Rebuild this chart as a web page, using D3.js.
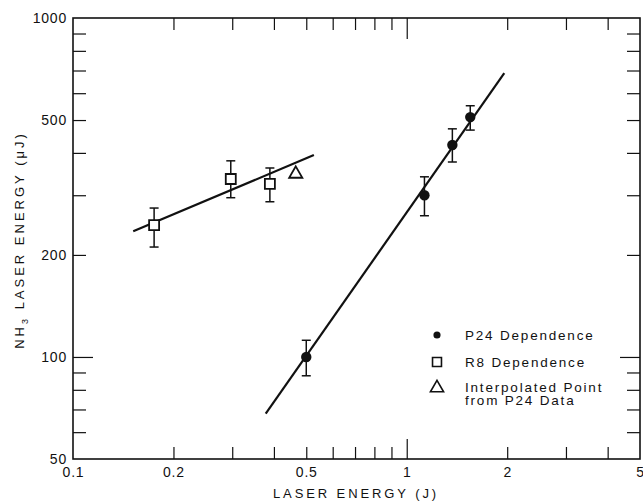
<!DOCTYPE html>
<html>
<head>
<meta charset="utf-8">
<script src="https://cdn.jsdelivr.net/npm/d3@7"></script>
<style>
  body { margin: 0; background: #fff; overflow: hidden; }
  svg { display: block; }
  svg text { font-family: "Liberation Sans", Arial, sans-serif; fill: #111; }
</style>
</head>
<body>
<svg id="graph"></svg>
<script>
// P24 dependence (filled circles)
var p24X = [0.5, 1.13, 1.37, 1.55];
var p24Y = [100, 300, 422, 510];
var p24Lo = [88, 261, 376, 467];
var p24Hi = [112, 340, 471, 551];

// R8 dependence (open squares)
var r8X = [0.175, 0.297, 0.389];
var r8Y = [245, 335, 324];
var r8Lo = [211, 295, 287];
var r8Hi = [275, 379, 361];

// interpolated point (triangle)
var triX = [0.465];
var triY = [349];

// fitted lines, end points
var p24FitX = [0.378, 1.96];
var p24FitY = [68, 688];
var r8FitX = [0.1515, 0.527];
var r8FitY = [235, 394];

// ticks
var xLabels = [0.1, 0.2, 0.5, 1, 2, 5];
var xMinor = [0.2, 0.3, 0.4, 0.5, 0.6, 0.7, 0.8, 0.9, 2, 3, 4];
var xMajor = [1];
var yLabels = [50, 100, 200, 500, 1000];
var yMinor = [60, 70, 80, 90, 200, 300, 400, 500, 600, 700, 800, 900];
var yMajor = [100];

var legendItems = ["P24 Dependence", "R8 Dependence", "Interpolated Point", "from P24 Data"];

var outerWidth = 643, outerHeight = 503;
var margins = { left: 73, right: 3, top: 18, bottom: 44 };
var innerWidth = outerWidth - margins.left - margins.right;
var innerHeight = outerHeight - margins.top - margins.bottom;

var svg = d3.select('svg#graph')
  .attr('width', outerWidth)
  .attr('height', outerHeight);

var g = svg.append('g')
  .attr('transform', 'translate(' + margins.left + ',' + margins.top + ')');

var x = d3.scaleLog().domain([0.1, 5]).range([0, innerWidth]);
var y = d3.scaleLog().domain([50, 1000]).range([innerHeight, 0]);

function styleAxis(sel) {
  sel.select('.domain').remove();
  sel.selectAll('line').attr('stroke', '#111').attr('stroke-width', 1.2);
  sel.selectAll('text').attr('font-size', 14).attr('letter-spacing', 0.8)
    .style('font-family', '"Liberation Sans", Arial, sans-serif');
}
// tick-only axes: drop their empty labels
function ticksOnly(sel) {
  styleAxis(sel);
  sel.selectAll('text').remove();
}

// bottom ticks (inward) + labels
g.append('g').attr('transform', 'translate(0,' + innerHeight + ')')
  .call(d3.axisBottom(x).tickValues(xMinor).tickSize(-12))
  .call(ticksOnly);
g.append('g').attr('transform', 'translate(0,' + innerHeight + ')')
  .call(d3.axisBottom(x).tickValues(xMajor).tickSize(-20))
  .call(ticksOnly);
g.append('g').attr('transform', 'translate(0,' + innerHeight + ')')
  .call(d3.axisBottom(x).tickValues(xLabels).tickSize(0).tickPadding(8).tickFormat(d3.format('')))
  .call(styleAxis);

// top ticks
g.append('g')
  .call(d3.axisTop(x).tickValues(xMinor).tickSize(-12))
  .call(ticksOnly);
g.append('g')
  .call(d3.axisTop(x).tickValues(xMajor).tickSize(-21))
  .call(ticksOnly);

// left ticks + labels
g.append('g')
  .call(d3.axisLeft(y).tickValues(yMinor).tickSize(-13))
  .call(ticksOnly);
g.append('g')
  .call(d3.axisLeft(y).tickValues(yMajor).tickSize(-20))
  .call(ticksOnly);
g.append('g')
  .call(d3.axisLeft(y).tickValues(yLabels).tickSize(0).tickPadding(6).tickFormat(d3.format('')))
  .call(styleAxis);

// right ticks
g.append('g').attr('transform', 'translate(' + innerWidth + ',0)')
  .call(d3.axisRight(y).tickValues(yMinor).tickSize(-13))
  .call(ticksOnly);
g.append('g').attr('transform', 'translate(' + innerWidth + ',0)')
  .call(d3.axisRight(y).tickValues(yMajor).tickSize(-20))
  .call(ticksOnly);

// frame
g.append('rect')
  .attr('width', innerWidth).attr('height', innerHeight)
  .attr('fill', 'none').attr('stroke', '#111').attr('stroke-width', 1.6);

// fit lines
var line = d3.line().x(d => x(d[0])).y(d => y(d[1]));
g.append('path')
  .datum(d3.zip(p24FitX, p24FitY))
  .attr('d', line).attr('fill', 'none').attr('stroke', '#111').attr('stroke-width', 2.2);
g.append('path')
  .datum(d3.zip(r8FitX, r8FitY))
  .attr('d', line).attr('fill', 'none').attr('stroke', '#111').attr('stroke-width', 2.2);

// error bars
function errorBars(xs, lo, hi) {
  var data = d3.zip(xs, lo, hi);
  var eb = g.append('g').attr('stroke', '#111').attr('stroke-width', 1.5);
  eb.selectAll('line.v').data(data).join('line')
    .attr('x1', d => x(d[0])).attr('x2', d => x(d[0]))
    .attr('y1', d => y(d[1])).attr('y2', d => y(d[2]));
  eb.selectAll('line.lo').data(data).join('line')
    .attr('x1', d => x(d[0]) - 4.5).attr('x2', d => x(d[0]) + 4.5)
    .attr('y1', d => y(d[1])).attr('y2', d => y(d[1]));
  eb.selectAll('line.hi').data(data).join('line')
    .attr('x1', d => x(d[0]) - 4.5).attr('x2', d => x(d[0]) + 4.5)
    .attr('y1', d => y(d[2])).attr('y2', d => y(d[2]));
}
errorBars(p24X, p24Lo, p24Hi);
errorBars(r8X, r8Lo, r8Hi);

// markers
var circleSym = d3.symbol().type(d3.symbolCircle).size(85);
var squareSym = d3.symbol().type(d3.symbolSquare).size(100);
var triSym = d3.symbol().type(d3.symbolTriangle).size(75);

g.selectAll('path.p24').data(d3.zip(p24X, p24Y)).join('path')
  .attr('transform', d => 'translate(' + x(d[0]) + ',' + y(d[1]) + ')')
  .attr('d', circleSym).attr('fill', '#111');
g.selectAll('path.r8').data(d3.zip(r8X, r8Y)).join('path')
  .attr('transform', d => 'translate(' + x(d[0]) + ',' + y(d[1]) + ')')
  .attr('d', squareSym).attr('fill', '#fff').attr('stroke', '#111').attr('stroke-width', 1.8);
g.selectAll('path.tri').data(d3.zip(triX, triY)).join('path')
  .attr('transform', d => 'translate(' + x(d[0]) + ',' + (y(d[1]) + 1) + ')')
  .attr('d', triSym).attr('fill', '#fff').attr('stroke', '#111').attr('stroke-width', 1.8);

// legend
var legend = svg.append('g').attr('transform', 'translate(437,335)');
legend.append('path').attr('d', d3.symbol().type(d3.symbolCircle).size(40)).attr('fill', '#111');
legend.append('path').attr('transform', 'translate(0,27)')
  .attr('d', d3.symbol().type(d3.symbolSquare).size(80))
  .attr('fill', '#fff').attr('stroke', '#111').attr('stroke-width', 1.6);
legend.append('path').attr('transform', 'translate(0,53)')
  .attr('d', d3.symbol().type(d3.symbolTriangle).size(75))
  .attr('fill', '#fff').attr('stroke', '#111').attr('stroke-width', 1.6);
legend.selectAll('text.item').data(legendItems).join('text')
  .attr('x', 28)
  .attr('y', (d, i) => [0, 27, 52, 65][i])
  .attr('dy', '0.35em')
  .attr('font-size', 13.5)
  .attr('letter-spacing', 1.8)
  .text(d => d);

// axis titles
svg.append('text')
  .attr('x', 356)
  .attr('y', 493)
  .attr('dy', '0.35em')
  .attr('text-anchor', 'middle')
  .attr('font-size', 13)
  .attr('letter-spacing', 2.9)
  .text('LASER ENERGY (J)');

var yt = svg.append('text')
  .attr('transform', 'translate(19,240) rotate(-90)')
  .attr('text-anchor', 'middle')
  .attr('dy', '0.35em')
  .attr('font-size', 13)
  .attr('letter-spacing', 3);
yt.append('tspan').text('NH');
yt.append('tspan').attr('font-size', 9).attr('dy', 4).text('3');
yt.append('tspan').attr('dy', -4).text(' LASER ENERGY (\u03BCJ)');
</script>
</body>
</html>
